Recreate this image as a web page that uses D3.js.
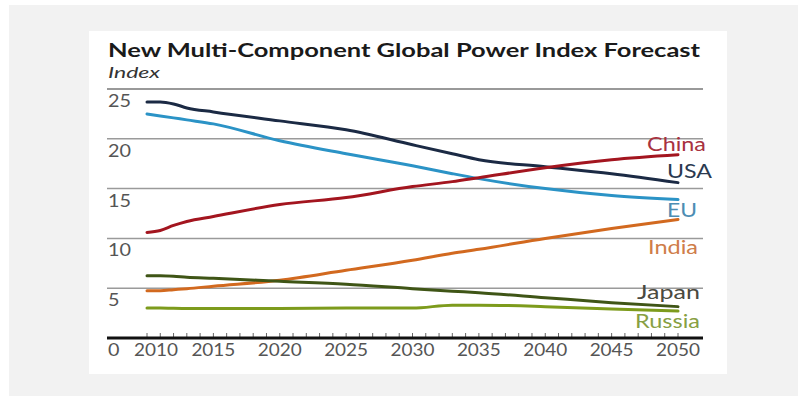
<!DOCTYPE html>
<html>
<head>
<meta charset="utf-8">
<script src="https://cdn.jsdelivr.net/npm/d3@7"></script>
<style>
  body { margin: 0; background: #fff; }
  svg { display: block; font-family: Lato, "Open Sans", sans-serif; }
</style>
</head>
<body>
<div id="chart"></div>
<script>
// values
var years = [2010, 2011, 2012, 2013, 2015, 2020, 2025, 2030, 2033, 2035, 2040, 2045, 2050];
var usa    = [23.7, 23.7, 23.5, 23.1, 22.7, 21.8, 20.9, 19.4, 18.5, 17.9, 17.2, 16.5, 15.6];
var eu     = [22.5, 22.3, 22.1, 21.9, 21.5, 19.8, 18.5, 17.3, 16.5, 16.0, 15.0, 14.3, 13.9];
var china  = [10.6, 10.8, 11.3, 11.7, 12.2, 13.4, 14.1, 15.2, 15.7, 16.1, 17.1, 17.9, 18.4];
var india  = [4.75, 4.75, 4.85, 4.95, 5.2, 5.8, 6.8, 7.8, 8.5, 8.9, 10.0, 11.0, 11.9];
var japan  = [6.25, 6.25, 6.2, 6.1, 6.0, 5.7, 5.4, 4.95, 4.7, 4.55, 4.05, 3.55, 3.15];
var russia = [3.0, 3.0, 2.98, 2.97, 2.95, 2.95, 3.0, 3.0, 3.3, 3.3, 3.15, 2.9, 2.7];

var yTicks = [0, 5, 10, 15, 20, 25];
var xTickLabels = [2010, 2015, 2020, 2025, 2030, 2035, 2040, 2045, 2050];

var series = [
  {name: "USA",    values: usa,    line: "#1b2a44", text: "#2b3a50", labelY: 172, labelX: 712, w: 45},
  {name: "EU",     values: eu,     line: "#2b93c6", text: "#4d8db3", labelY: 211, labelX: 697, w: 30},
  {name: "China",  values: china,  line: "#a3151f", text: "#a8323f", labelY: 145, labelX: 706, w: 59},
  {name: "India",  values: india,  line: "#d2691f", text: "#cf7d4a", labelY: 248, labelX: 698, w: 50},
  {name: "Japan",  values: japan,  line: "#3f5516", text: "#4a4a40", labelY: 293, labelX: 700, w: 63},
  {name: "Russia", values: russia, line: "#7d9b1c", text: "#88a043", labelY: 322, labelX: 700, w: 65}
];

var W = 798, H = 396;
var svg = d3.select("#chart").append("svg")
  .attr("width", W)
  .attr("height", H);

// the source chart is stretched sideways, so text gets widened to fit
function widen(sel, k) {
  sel.each(function() {
    var n = this.getComputedTextLength();
    d3.select(this).attr("textLength", n * k).attr("lengthAdjust", "spacingAndGlyphs");
  });
}

// grey backdrop and white card
svg.append("rect").attr("x", 9).attr("y", 5).attr("width", W - 9).attr("height", H - 5).attr("fill", "#f2f2f2");
svg.append("rect").attr("x", 89).attr("y", 31).attr("width", 638).attr("height", 343).attr("fill", "#fff");

var x = d3.scaleLinear().domain([2010, 2050]).range([147, 678]);
var y = d3.scaleLinear().domain([0, 25]).range([338, 89]);
var gridLeft = 107, gridRight = 703;

svg.append("text")
  .attr("x", 108).attr("y", 57)
  .attr("font-size", 18.5).attr("font-weight", 700).attr("fill", "#1a1a1a")
  .attr("textLength", 592).attr("lengthAdjust", "spacingAndGlyphs")
  .text("New Multi-Component Global Power Index Forecast");

svg.append("text")
  .attr("x", 108).attr("y", 78)
  .attr("font-size", 14.5).attr("font-style", "italic").attr("fill", "#333")
  .attr("textLength", 52).attr("lengthAdjust", "spacingAndGlyphs")
  .text("Index");

// gridlines
svg.append("g").selectAll("line")
  .data(yTicks.filter(d => d > 0))
  .join("line")
  .attr("x1", gridLeft).attr("x2", gridRight)
  .attr("y1", d => y(d)).attr("y2", d => y(d))
  .attr("stroke", d => d == 25 ? "#777" : "#9a9a9a")
  .attr("stroke-width", 1.5);

// y labels hang just under their gridline
svg.append("g").selectAll("text")
  .data(yTicks)
  .join("text")
  .attr("x", 108)
  .attr("y", d => y(d) + 18)
  .attr("font-size", 16.5).attr("fill", "#555")
  .text(d => d)
  .call(widen, 1.2);

// year ticks
svg.append("g").selectAll("line")
  .data(d3.range(2010, 2051))
  .join("line")
  .attr("x1", d => x(d)).attr("x2", d => x(d))
  .attr("y1", y(0)).attr("y2", y(0) - 5)
  .attr("stroke", "#666").attr("stroke-width", 1);

svg.append("line")
  .attr("x1", gridLeft).attr("x2", gridRight)
  .attr("y1", y(0)).attr("y2", y(0))
  .attr("stroke", "#111").attr("stroke-width", 3);

svg.append("g").selectAll("text")
  .data(xTickLabels)
  .join("text")
  .attr("x", d => x(d) + (d == 2010 ? 9 : 0))
  .attr("y", y(0) + 18)
  .attr("text-anchor", "middle")
  .attr("font-size", 16.5).attr("fill", "#555")
  .attr("textLength", 44).attr("lengthAdjust", "spacingAndGlyphs")
  .text(d => d);

var line = d3.line()
  .x((d, i) => x(years[i]))
  .y(d => y(d))
  .curve(d3.curveMonotoneX);

svg.append("g").selectAll("path")
  .data(series)
  .join("path")
  .attr("d", d => line(d.values))
  .attr("fill", "none")
  .attr("stroke", d => d.line)
  .attr("stroke-width", 3)
  .attr("stroke-linecap", "round");

svg.append("g").selectAll("text")
  .data(series)
  .join("text")
  .attr("x", d => d.labelX)
  .attr("y", d => d.labelY)
  .attr("dy", "0.35em")
  .attr("text-anchor", "end")
  .attr("font-size", 18.5).attr("fill", d => d.text)
  .attr("textLength", d => d.w).attr("lengthAdjust", "spacingAndGlyphs")
  .text(d => d.name);
</script>
</body>
</html>
